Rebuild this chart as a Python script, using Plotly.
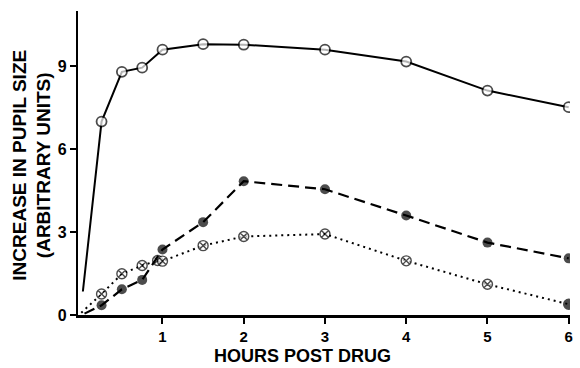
import plotly.graph_objects as go

# Open circles, solid line
hours_a = [0.02, 0.25, 0.5, 0.75, 1.0, 1.5, 2.0, 3.0, 4.0, 5.0, 6.0]
size_a = [0.85, 7.0, 8.8, 8.95, 9.6, 9.8, 9.78, 9.6, 9.17, 8.12, 7.52]

# Filled circles, dashed line
hours_b = [0.04, 0.25, 0.5, 0.75, 1.0, 1.5, 2.0, 3.0, 4.0, 5.0, 6.0]
size_b = [0.05, 0.35, 0.93, 1.27, 2.37, 3.36, 4.84, 4.55, 3.6, 2.62, 2.05]

# Crossed circles, dotted line
hours_c = [0.0, 0.25, 0.5, 0.75, 0.94, 1.0, 1.5, 2.0, 3.0, 4.0, 5.0, 6.0]
size_c = [0.08, 0.76, 1.49, 1.79, 1.97, 1.95, 2.51, 2.84, 2.93, 1.96, 1.11, 0.39]

x_ticks = [1, 2, 3, 4, 5, 6]
y_ticks = [0, 3, 6, 9]

FONT = "Liberation Sans"

fig = go.Figure()

fig.add_trace(go.Scatter(
    x=hours_c, y=size_c, mode="lines+markers",
    line=dict(color="black", width=2, dash="2px,4px"),
    marker=dict(
        symbol=["circle-x"] * (len(hours_c) - 1) + ["circle"],
        size=[0] + [10] * (len(hours_c) - 2) + [10],
        color=["white"] * (len(hours_c) - 1) + ["black"],
        line=dict(color="black", width=1.4),
    ),
    showlegend=False,
))

fig.add_trace(go.Scatter(
    x=hours_b, y=size_b, mode="lines+markers",
    line=dict(color="black", width=2.2, dash="11px,6px"),
    marker=dict(symbol="circle", size=[0] + [10] * (len(hours_b) - 1),
                color="black", line=dict(width=0)),
    showlegend=False,
))

fig.add_trace(go.Scatter(
    x=hours_a, y=size_a, mode="lines+markers",
    line=dict(color="black", width=2),
    marker=dict(symbol="circle", size=[0] + [10] * (len(hours_a) - 1),
                color="white", line=dict(color="black", width=1.8)),
    showlegend=False,
))

fig.update_layout(
    width=580, height=368,
    margin=dict(l=78, r=7, t=11, b=53),
    paper_bgcolor="white", plot_bgcolor="white",
    font=dict(family=FONT, size=17, color="black"),
    xaxis=dict(
        range=[-0.04, 6.016], tickvals=x_ticks, ticktext=[f"<b>{v}</b>" for v in x_ticks],
        showgrid=False, zeroline=False, showline=True, linecolor="black", linewidth=2.5,
        ticks="outside", ticklen=6, tickwidth=2, tickcolor="black",
        ticklabelstandoff=0,
        tickfont=dict(family=FONT, size=15, color="black"),
    ),
    yaxis=dict(
        range=[0, 11], tickvals=y_ticks, ticktext=[f"<b>{v}</b>" for v in y_ticks],
        showgrid=False, zeroline=False, showline=True, linecolor="black", linewidth=2.2,
        ticks="outside", ticklen=6, tickwidth=2, tickcolor="black",
        tickfont=dict(family=FONT, size=16, color="black"),
    ),
    annotations=[
        dict(text="<b>HOURS POST DRUG</b>", xref="paper", yref="paper",
             x=0.457, y=-0.1745, xanchor="center", yanchor="bottom",
             showarrow=False, font=dict(family=FONT, size=18, color="black")),
        dict(text="<b>INCREASE IN PUPIL SIZE<br>(ARBITRARY UNITS)</b>", xref="paper", yref="paper",
             x=-0.093, y=0.492, xanchor="center", yanchor="middle", textangle=-90,
             showarrow=False, font=dict(family=FONT, size=19, color="black")),
    ],
)

fig.write_html("out.html", config={"displayModeBar": False},
               post_script="document.body.style.margin='0';")
